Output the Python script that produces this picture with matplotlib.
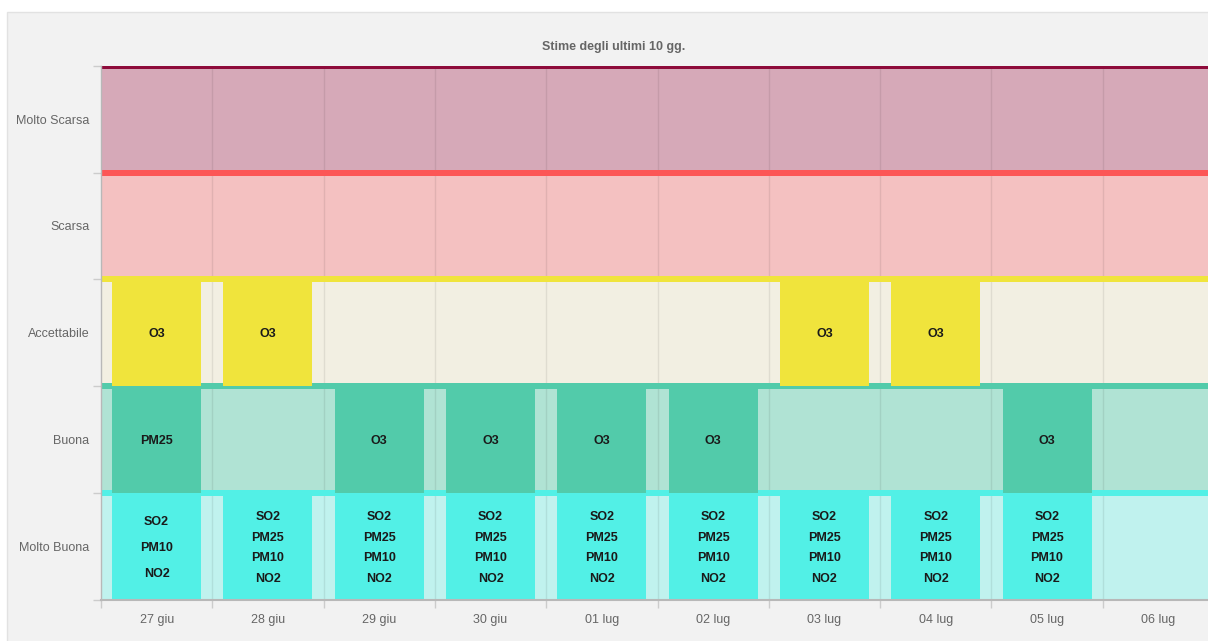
import matplotlib
matplotlib.use('Agg')
import matplotlib.pyplot as plt
from matplotlib.patches import Rectangle

plt.rcParams['font.family'] = ['Liberation Sans', 'DejaVu Sans']

days = ['27 giu', '28 giu', '29 giu', '30 giu', '01 lug',
        '02 lug', '03 lug', '04 lug', '05 lug', '06 lug']
levels = ['Molto Buona', 'Buona', 'Accettabile', 'Scarsa', 'Molto Scarsa']

all4 = 'SO2\nPM25\nPM10\nNO2'
molto_buona = ['SO2\nPM10\nNO2', all4, all4, all4, all4, all4, all4, all4, all4, '']
buona = ['PM25', '', 'O3', 'O3', 'O3', 'O3', '', '', 'O3', '']
accettabile = ['O3', 'O3', '', '', '', '', 'O3', 'O3', '', '']
scarsa = [''] * 10
molto_scarsa = [''] * 10
rows = [molto_buona, buona, accettabile, scarsa, molto_scarsa]

band_colors = ['#c0f2ee', '#b0e3d4', '#f2efe2', '#f4c1c1', '#d6a9b8']
line_colors = ['#52f0e6', '#52cbaa', '#f0e43c', '#fc5656', '#8e0b3b']

W, H = 1208, 641
fig = plt.figure(figsize=(W / 100, H / 100), dpi=100)
fig.patch.set_facecolor('white')
# grey card behind the chart, starting a few pixels in from the top-left
fig.patches.append(Rectangle((7 / W, -0.05), 1, (H - 12) / H + 0.05, transform=fig.transFigure,
                             facecolor='#f2f2f2', edgecolor='#e2e2e2', lw=1, zorder=-1))

x0, x1 = 101, 1214
y_top, y_bot = 65.7, 600
ax = fig.add_axes([x0 / W, (H - y_bot) / H, (x1 - x0) / W, (y_bot - y_top) / H])
ax.set_facecolor('none')
ax.set_xlim(0, len(days))
ax.set_ylim(0, len(levels))

row_px = (y_bot - y_top) / len(levels)
half = 3 / row_px

for k in range(len(levels)):
    ax.axhspan(k, k + 1, color=band_colors[k], lw=0, zorder=0)
for i in range(1, len(days)):
    ax.axvline(i, color='black', alpha=0.08, lw=1, zorder=1)
for k in range(len(levels)):
    ax.axhspan(k + 1 - half, k + 1 + half, color=line_colors[k], lw=0, zorder=2)

bar_h = 1 - half
for k, labels in enumerate(rows):
    for i, lab in enumerate(labels):
        if not lab:
            continue
        ax.bar(i + 0.5, bar_h, bottom=k, width=0.8, color=line_colors[k], lw=0, zorder=3)
        parts = lab.split('\n')
        n = len(parts)
        for j, p in enumerate(parts):
            ax.text(i + 0.5, k + bar_h - bar_h * (j + 1) / (n + 1), p,
                    ha='center', va='center', fontsize=9, fontweight='bold',
                    color='#1a1a1a', zorder=4)

ax.set_xticks([i + 0.5 for i in range(len(days))])
ax.set_xticklabels(days)
ax.set_xticks(range(len(days) + 1), minor=True)
ax.set_yticks([k + 0.5 for k in range(len(levels))])
ax.set_yticklabels(levels)
ax.set_yticks(range(len(levels) + 1), minor=True)
ax.tick_params(which='major', length=0, labelsize=9, labelcolor='#666666')
ax.tick_params(axis='x', which='major', pad=10)
ax.tick_params(axis='y', which='major', pad=8.5)
ax.tick_params(which='minor', length=6, width=1, color='#cccccc')

for s in ['top', 'right']:
    ax.spines[s].set_visible(False)
ax.spines['bottom'].set_color('#b8b8b8')
ax.spines['bottom'].set_linewidth(1.5)
ax.spines['bottom'].set_zorder(5)
ax.spines['left'].set_color('#b8b8b8')
ax.spines['left'].set_linewidth(1.0)
ax.spines['left'].set_zorder(5)

fig.text(614 / W, (H - 47) / H, 'Stime degli ultimi 10 gg.', ha='center', va='center',
         fontsize=9, fontweight='bold', color='#666666')

fig.savefig('out.png', dpi=100)
